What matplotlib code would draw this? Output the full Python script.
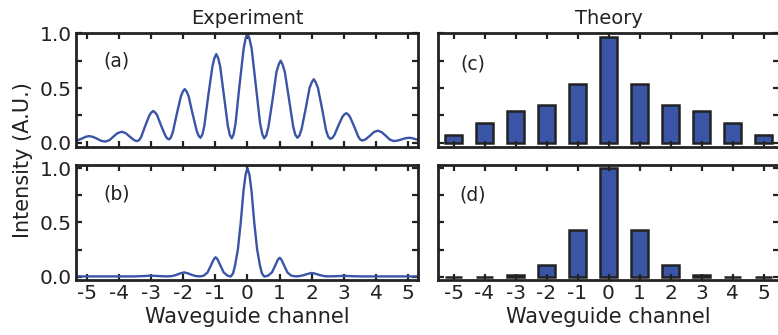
import matplotlib
matplotlib.use('Agg')
from matplotlib import pyplot as plt

# measured experiment curves (channel position, normalised intensity)
exp_a_x = [-5.35, -5.24, -5.13, -5.03, -4.92, -4.80, -4.67, -4.55, -4.42, -4.29, -4.17, -4.04,
           -3.91, -3.79, -3.67, -3.54, -3.48, -3.42, -3.36, -3.30, -3.18, -3.05, -2.99, -2.93,
           -2.87, -2.81, -2.69, -2.56, -2.50, -2.44, -2.38, -2.32, -2.20, -2.07, -2.01, -1.95,
           -1.89, -1.83, -1.71, -1.58, -1.52, -1.46, -1.40, -1.34, -1.22, -1.09, -1.03, -0.97,
           -0.91, -0.85, -0.73, -0.61, -0.55, -0.49, -0.43, -0.37, -0.25, -0.12, -0.06, 0.00,
           0.06, 0.13, 0.26, 0.39, 0.46, 0.52, 0.585, 0.65, 0.78, 0.90, 0.97, 1.03,
           1.09, 1.16, 1.29, 1.42, 1.485, 1.55, 1.615, 1.68, 1.81, 1.93, 2.00, 2.06,
           2.12, 2.19, 2.32, 2.44, 2.505, 2.57, 2.635, 2.70, 2.82, 2.95, 3.01, 3.07,
           3.13, 3.19, 3.32, 3.44, 3.50, 3.56, 3.62, 3.68, 3.81, 3.93, 4.05, 4.17,
           4.30, 4.42, 4.54, 4.66, 4.79, 4.91, 5.03, 5.11, 5.19, 5.27, 5.35]
exp_a_y = [0.020, 0.026, 0.040, 0.054, 0.060, 0.053, 0.035, 0.017, 0.010, 0.023, 0.055, 0.087,
           0.100, 0.088, 0.058, 0.027, 0.018, 0.015, 0.026, 0.055, 0.153, 0.250, 0.276, 0.290,
           0.276, 0.252, 0.160, 0.068, 0.040, 0.030, 0.048, 0.097, 0.260, 0.423, 0.467, 0.490,
           0.467, 0.425, 0.268, 0.110, 0.063, 0.045, 0.076, 0.157, 0.428, 0.698, 0.772, 0.810,
           0.772, 0.698, 0.425, 0.152, 0.071, 0.040, 0.078, 0.180, 0.520, 0.860, 0.952, 1.000,
           0.952, 0.860, 0.520, 0.180, 0.078, 0.040, 0.068, 0.144, 0.395, 0.646, 0.715, 0.750,
           0.715, 0.647, 0.398, 0.148, 0.073, 0.045, 0.066, 0.123, 0.313, 0.502, 0.553, 0.580,
           0.553, 0.500, 0.308, 0.115, 0.057, 0.035, 0.044, 0.069, 0.153, 0.236, 0.258, 0.270,
           0.258, 0.233, 0.145, 0.057, 0.030, 0.020, 0.024, 0.033, 0.065, 0.097, 0.110, 0.096,
           0.063, 0.029, 0.015, 0.019, 0.030, 0.041, 0.045, 0.042, 0.035, 0.028, 0.025]

exp_b_x = [-5.35, -4.50, -3.50, -3.25, -3.00, -2.75, -2.50, -2.35, -2.22, -2.10, -1.97, -1.84,
           -1.72, -1.60, -1.48, -1.36, -1.24, -1.12, -1.05, -0.99, -0.93, -0.86, -0.74, -0.62,
           -0.52, -0.45, -0.39, -0.30, -0.21, -0.125, -0.06, 0.00, 0.06, 0.125, 0.21, 0.30,
           0.39, 0.45, 0.52, 0.64, 0.76, 0.88, 0.94, 1.00, 1.06, 1.12, 1.24, 1.36,
           1.50, 1.62, 1.75, 1.88, 2.00, 2.12, 2.25, 2.38, 2.50, 2.75, 3.00, 3.25,
           3.50, 4.50, 5.35]
exp_b_y = [0.003, 0.003, 0.003, 0.006, 0.010, 0.006, 0.003, 0.006, 0.016, 0.030, 0.040, 0.030,
           0.016, 0.006, 0.003, 0.010, 0.040, 0.115, 0.160, 0.180, 0.160, 0.115, 0.040, 0.010,
           0.002, 0.030, 0.100, 0.250, 0.500, 0.790, 0.940, 1.000, 0.940, 0.790, 0.500, 0.250,
           0.100, 0.030, 0.002, 0.010, 0.040, 0.115, 0.155, 0.175, 0.155, 0.115, 0.040, 0.010,
           0.003, 0.006, 0.015, 0.027, 0.035, 0.027, 0.015, 0.006, 0.003, 0.005, 0.008, 0.005,
           0.003, 0.003, 0.003]

# theory, one value per waveguide
channels = [-5, -4, -3, -2, -1, 0, 1, 2, 3, 4, 5]
theory_c = [0.073, 0.18, 0.29, 0.345, 0.54, 0.97, 0.54, 0.345, 0.29, 0.18, 0.073]
theory_d = [0.002, 0.002, 0.013, 0.108, 0.43, 1.0, 0.43, 0.108, 0.013, 0.002, 0.002]

blue = '#3a54a6'
dark = '#222222'
plt.rcParams['font.family'] = 'DejaVu Sans'
plt.rcParams['axes.unicode_minus'] = False

fig = plt.figure(figsize=(7.78, 3.35), dpi=100)

ax_a = fig.add_axes([0.0977, 0.562, 0.4396, 0.3385])
ax_b = fig.add_axes([0.0977, 0.1642, 0.4396, 0.3433])
ax_c = fig.add_axes([0.563, 0.562, 0.4383, 0.3385])
ax_d = fig.add_axes([0.563, 0.1642, 0.4383, 0.3433])

ax_a.plot(exp_a_x, exp_a_y, color=blue, linewidth=1.7)
ax_b.plot(exp_b_x, exp_b_y, color=blue, linewidth=1.7)
ax_c.bar(channels, theory_c, width=0.52, color=blue, edgecolor=dark, linewidth=1.8)
ax_d.bar(channels, theory_d, width=0.52, color=blue, edgecolor=dark, linewidth=1.8)

xticks = list(range(-5, 6))
xlabels = [str(t) for t in xticks]
yticks = [0.0, 0.25, 0.5, 0.75, 1.0]
ylabels = ['0.0', '', '0.5', '', '1.0']

for ax in (ax_a, ax_b, ax_c, ax_d):
    for sp in ax.spines.values():
        sp.set_linewidth(2)
        sp.set_color(dark)
    ax.tick_params(direction='in', top=True, right=True, length=4, width=1.6,
                   labelsize=14.5, pad=3, colors=dark)
    ax.set_xticks(xticks)
    ax.set_yticks(yticks)

ax_a.set_xlim(-5.33, 5.3)
ax_b.set_xlim(-5.33, 5.3)
ax_c.set_xlim(-5.5, 5.5)
ax_d.set_xlim(-5.5, 5.5)
ax_a.set_ylim(-0.037, 1.0)
ax_c.set_ylim(-0.037, 1.0)
ax_b.set_ylim(-0.03, 1.03)
ax_d.set_ylim(-0.03, 1.03)

ax_a.set_yticklabels(ylabels)
ax_b.set_yticklabels(ylabels)
ax_c.set_yticklabels([])
ax_d.set_yticklabels([])
ax_a.set_xticklabels([])
ax_c.set_xticklabels([])
ax_b.set_xticklabels(xlabels)
ax_d.set_xticklabels(xlabels)

ax_a.set_title('Experiment', fontsize=14, pad=7, color=dark)
ax_c.set_title('Theory', fontsize=14, pad=7, color=dark)
ax_b.set_xlabel('Waveguide channel', fontsize=15, labelpad=3, color=dark)
ax_d.set_xlabel('Waveguide channel', fontsize=15, labelpad=3, color=dark)
fig.text(0.03, 0.522, 'Intensity (A.U.)', rotation=90, fontsize=15,
         ha='center', va='center', color=dark)

ax_a.text(-4.06, 0.75, '(a)', fontsize=13.5, ha='center', va='center', color=dark)
ax_b.text(-4.06, 0.76, '(b)', fontsize=13.5, ha='center', va='center', color=dark)
ax_c.text(-4.39, 0.72, '(c)', fontsize=13.5, ha='center', va='center', color=dark)
ax_d.text(-4.39, 0.75, '(d)', fontsize=13.5, ha='center', va='center', color=dark)

plt.savefig('out.png', dpi=100)
plt.close()
